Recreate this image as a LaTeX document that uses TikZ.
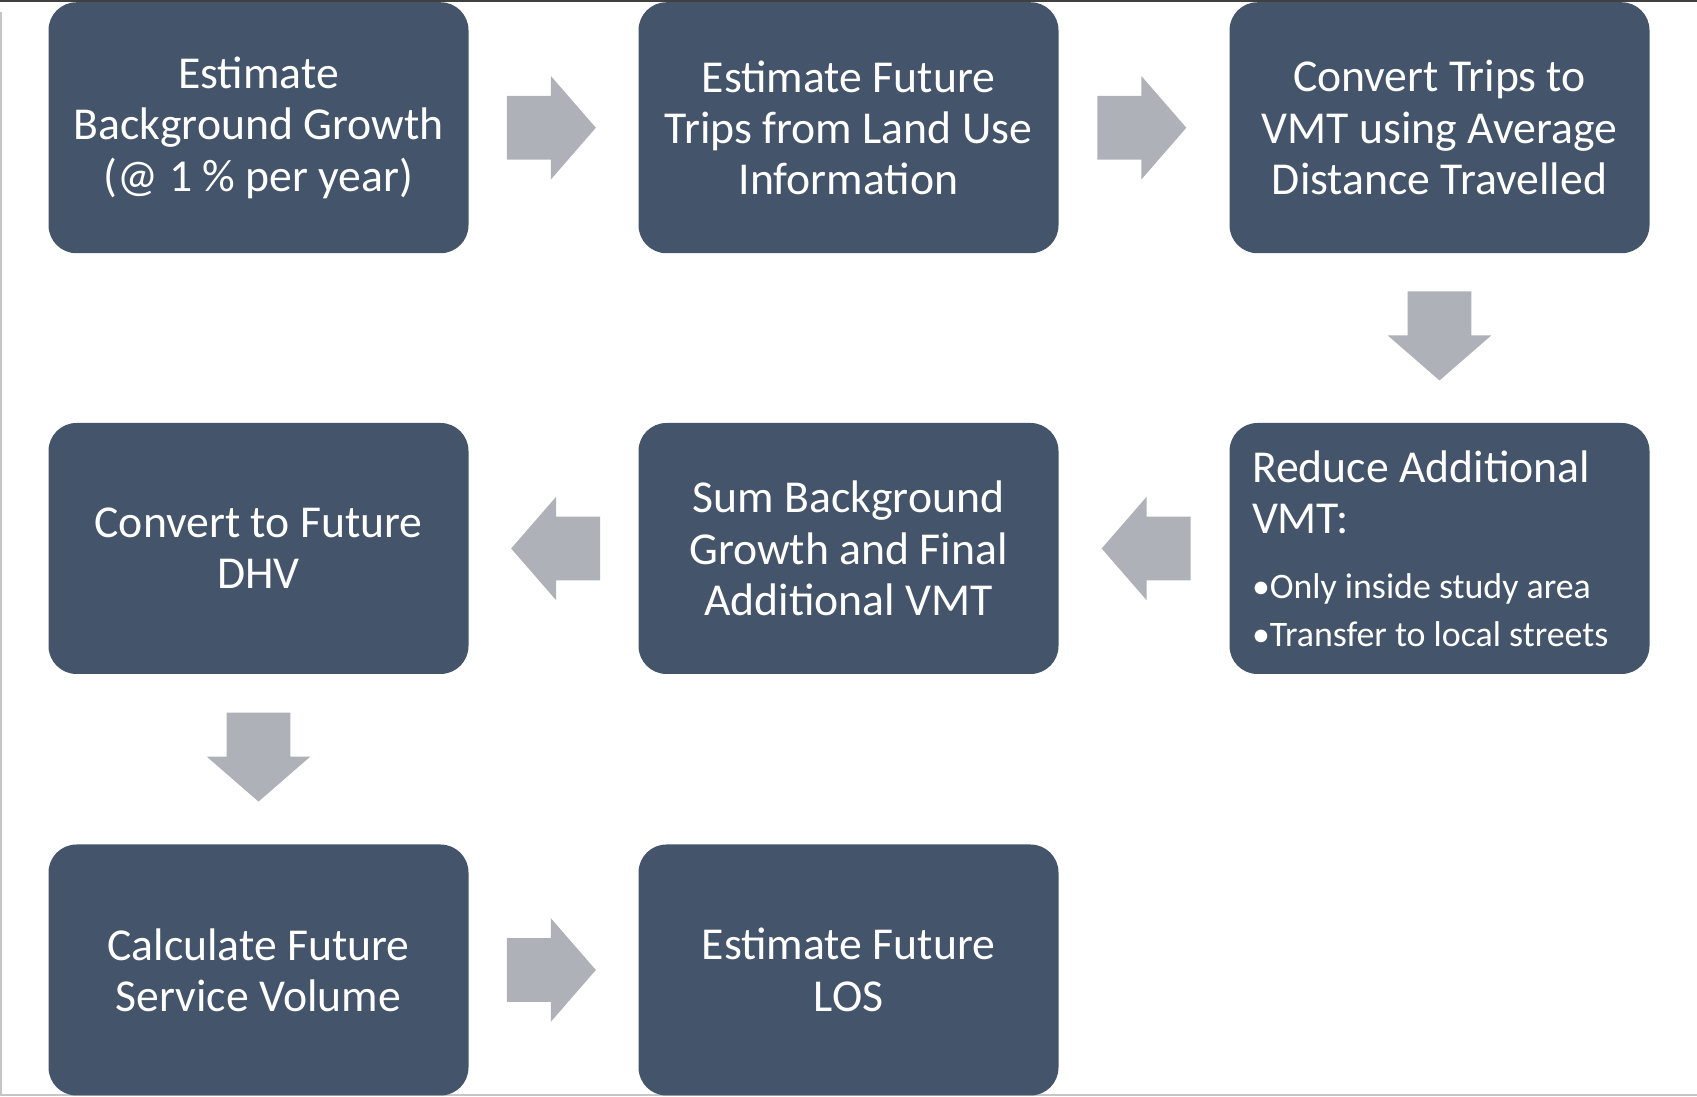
\documentclass[tikz,border=0pt]{standalone}
\usepackage{fontspec}
\setmainfont{Carlito}
\usetikzlibrary{shapes.arrows,calc}
\definecolor{slate}{HTML}{44546A}
\definecolor{arrgray}{HTML}{AEB1B8}

\begin{document}
\begin{tikzpicture}[
    stepbox/.style={fill=slate,rounded corners=0.56cm,minimum width=8.4cm,minimum height=5.02cm,inner sep=0pt,
        text=white,align=center,font=\fontsize{26}{29.2}\selectfont},
    blockarr/.style={single arrow,fill=arrgray,inner xsep=0pt,inner ysep=0.63cm,minimum height=1.78cm,
        single arrow head extend=0.4cm,single arrow tip angle=98,xshift=-0.32cm}]
    \useasboundingbox (0,0) rectangle (33.94,21.94);
    \draw[gray!45,line width=0.6pt] (0.02,21.7)--(0.02,0.04)--(33.94,0.04);
    \draw[black!75,line width=1.2pt] (0,21.92)--(33.94,21.92);
    \node[stepbox] (bg) at (5.17,19.385) {Estimate\\Background Growth\\(@ 1 \% per year)};
    \node[stepbox] (trips) at (16.97,19.385) {Estimate Future\\Trips from Land Use\\Information};
    \node[stepbox] (vmt) at (28.79,19.385) {Convert Trips to\\VMT using Average\\Distance Travelled};
    \node[stepbox] (reduce) at (28.79,10.97) {};
    \node[anchor=west,align=left,text=white,inner sep=0pt,font=\fontsize{26}{29.2}\selectfont] (reducetxt)
        at ([xshift=0.45cm]reduce.west) {Reduce Additional\\VMT:\\[7.8pt]
        {\fontsize{20.4}{27}\selectfont •Only inside study area}\\[-2.2pt]
        {\fontsize{20.4}{27}\selectfont •Transfer to local streets}};
    \node[stepbox] (sum) at (16.97,10.97) {Sum Background\\Growth and Final\\Additional VMT};
    \node[stepbox] (dhv) at (5.17,10.97) {Convert to Future\\DHV};
    \node[stepbox] (svc) at (5.17,2.54) {Calculate Future\\Service Volume};
    \node[stepbox] (los) at (16.97,2.54) {Estimate Future\\LOS};
    \node[blockarr] (a1) at ($(bg.east)!0.5!(trips.west)$) {};
    \node[blockarr] (a2) at ($(trips.east)!0.5!(vmt.west)$) {};
    \node[rotate=-90,blockarr] (a3) at ($(vmt.south)!0.5!(reduce.north)$) {};
    \node[rotate=180,blockarr] (a4) at ($(reduce.west)!0.5!(sum.east)$) {};
    \node[rotate=180,blockarr] (a5) at ($(sum.west)!0.5!(dhv.east)$) {};
    \node[rotate=-90,blockarr] (a6) at ($(dhv.south)!0.5!(svc.north)$) {};
    \node[blockarr] (a7) at ($(svc.east)!0.5!(los.west)$) {};
\end{tikzpicture}
\end{document}
